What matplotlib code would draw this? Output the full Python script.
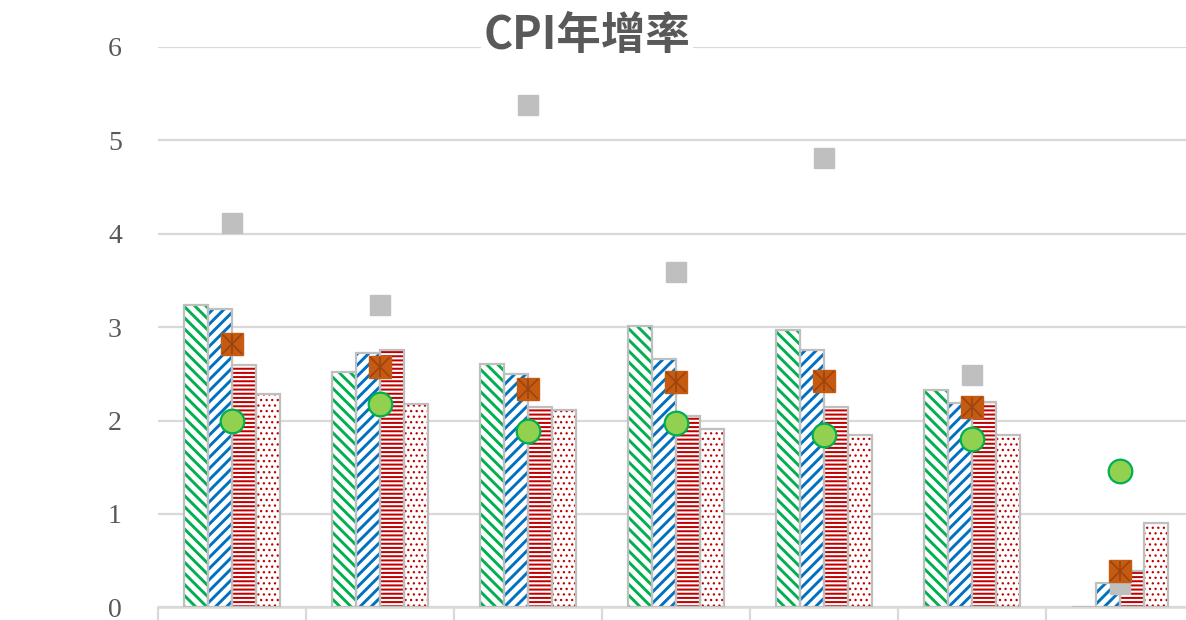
import matplotlib
matplotlib.use("Agg")
import matplotlib.pyplot as plt
import numpy as np

# ---- data ----
groups = ["1", "2", "3", "4", "5", "6", "7"]
series_green = [3.24, 2.52, 2.61, 3.01, 2.97, 2.33, 0.0]
series_blue = [3.19, 2.72, 2.50, 2.66, 2.76, 2.19, 0.26]
series_red = [2.59, 2.75, 2.15, 2.05, 2.15, 2.20, 0.39]
series_dot = [2.28, 2.18, 2.11, 1.91, 1.85, 1.84, 0.90]
marker_gray = [4.12, 3.24, 5.38, 3.59, 4.81, 2.49, 0.25]
marker_orange = [2.82, 2.57, 2.34, 2.41, 2.42, 2.15, 0.39]
marker_circle = [2.00, 2.18, 1.89, 1.97, 1.85, 1.80, 1.46]
yticks = [0, 1, 2, 3, 4, 5, 6]
title = "CPI年增率"

plt.rcParams['hatch.linewidth'] = 1.7

fig = plt.figure(figsize=(11.86, 6.2), dpi=100)
ax = fig.add_axes([158 / 1186, 12.7 / 620, 1036 / 1186, 560.3 / 620])

x = np.arange(len(groups))
w = 0.162
bar_specs = [
    (series_green, -1.5, "#00B050", "\\\\\\", 2.1),
    (series_blue, -0.5, "#0070C0", "///", 2.1),
    (series_red, 0.5, "#C00000", "----", 1.45),
    (series_dot, 1.5, "#C00000", "...", 0.9),
]
for vals, off, col, hatch, hlw in bar_specs:
    with plt.rc_context({'hatch.linewidth': hlw}):
        bars = ax.bar(x + off * w, vals, width=w, facecolor="white",
                      edgecolor=col, hatch=hatch, linewidth=0, zorder=2)
    for p in bars:
        if hasattr(p, "set_hatch_linewidth"):
            p.set_hatch_linewidth(hlw)
    ax.bar(x + off * w, vals, width=w, fill=False, edgecolor="#BFBFBF",
           linewidth=1.6, zorder=3)

ax.plot(x, marker_gray, linestyle="none", marker="s", markersize=15,
        markerfacecolor="#BFBFBF", markeredgecolor="#BFBFBF", zorder=4)
ax.plot(x, marker_orange, linestyle="none", marker="s", markersize=16,
        markerfacecolor="#C55A11", markeredgecolor="#C55A11", zorder=5)
ax.plot(x, marker_orange, linestyle="none", marker="x", markersize=15,
        markeredgecolor="#9C4410", markeredgewidth=1.2, zorder=6)
ax.plot(x, marker_orange, linestyle="none", marker="|", markersize=15,
        markeredgecolor="#9C4410", markeredgewidth=1.2, zorder=6)
ax.plot(x, marker_circle, linestyle="none", marker="o", markersize=17,
        markerfacecolor="#92D050", markeredgecolor="#00B050",
        markeredgewidth=1.6, zorder=7)

ax.set_xlim(-0.5, 6.5)
ax.set_ylim(0, 6)
ax.set_yticks(yticks)
ax.set_yticklabels([str(v) for v in yticks], fontfamily="Liberation Serif",
                   fontsize=20, color="#595959")
ax.tick_params(axis="y", length=0, pad=26)
ax.set_xticks(np.arange(-0.5, 7.0, 1.0))
ax.set_xticklabels([])
ax.tick_params(axis="x", length=14, width=1.6, color="#D9D9D9")

ax.grid(axis="y", color="#D9D9D9", linewidth=1.6, zorder=0)
ax.set_axisbelow(True)
for s in ["top", "right", "left"]:
    ax.spines[s].set_visible(False)
ax.spines["bottom"].set_color("#D9D9D9")
ax.spines["bottom"].set_linewidth(1.8)

fig.text(587 / 1186, 1 - 36 / 620, title, ha="center", va="center",
         fontsize=32, fontweight="bold", color="#595959",
         family=["Noto Sans CJK TC", "DejaVu Sans"],
         bbox=dict(facecolor="white", edgecolor="none", pad=2))

fig.savefig("out.png", dpi=100)
